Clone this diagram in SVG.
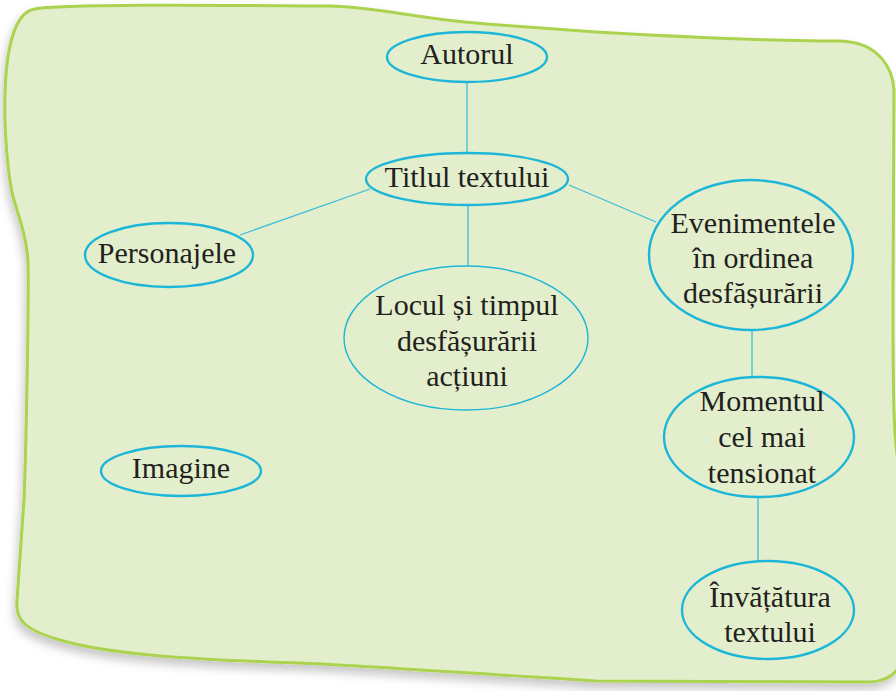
<svg xmlns="http://www.w3.org/2000/svg" width="896" height="691" viewBox="0 0 896 691">
<defs>
<filter id="sh" x="-10%" y="-10%" width="120%" height="120%">
<feDropShadow dx="-2" dy="6" stdDeviation="5" flood-color="#000" flood-opacity="0.22"/>
</filter>
<style>
.node{fill:none;stroke:#1db6d8;stroke-width:2.4}
.thin{stroke-width:1.4}
.lbl{font-family:"Liberation Serif","Times New Roman",serif;font-size:30px;fill:#231f20;text-anchor:middle}
.conn line{stroke:#3bbdd8;stroke-width:1.3}
</style>
</defs>
<rect width="896" height="691" fill="#fff"/>
<path id="board" filter="url(#sh)" fill="#e3efcc" stroke="#acd34f" stroke-width="3" d="M35,9 C60,4 200,5 330,6 C380,7 420,20 500,25 L596,32 C700,38 780,41 840,41 C880,42 893,70 894,90 L893,300 C893,400 894,440 898,460 L905,475 L905,640 C905,665 895,681 870,682 L596,681 C450,672 350,665 300,663 C200,660 110,655 60,640 C25,630 15,620 17,600 L24,500 C26,450 29,300 28,262 C27,240 20,220 14,200 C8,180 4,130 5,95 C6,50 14,12 35,9 Z"/>
<g id="connectors" class="conn">
<line x1="467" y1="81" x2="467" y2="153"/>
<line x1="468" y1="206" x2="468" y2="266"/>
<line x1="240" y1="235" x2="370" y2="189"/>
<line x1="569" y1="185" x2="656" y2="222"/>
<line x1="752" y1="330" x2="752" y2="377"/>
<line x1="758" y1="497" x2="758" y2="561"/>
</g>
<g id="autorul">
<ellipse class="node" cx="467" cy="57" rx="80" ry="25"/>
<text class="lbl" x="467" y="64">Autorul</text>
</g>
<g id="titlul">
<ellipse class="node" cx="467" cy="179" rx="101" ry="26"/>
<text class="lbl" x="467" y="187">Titlul textului</text>
</g>
<g id="personajele">
<ellipse class="node" cx="169" cy="255" rx="84" ry="32"/>
<text class="lbl" x="167" y="263">Personajele</text>
</g>
<g id="locul">
<ellipse class="node thin" cx="466" cy="338" rx="122" ry="72"/>
<text class="lbl" x="467" y="315">Locul și timpul</text>
<text class="lbl" x="467" y="351">desfășurării</text>
<text class="lbl" x="467" y="386">acțiuni</text>
</g>
<g id="evenimentele">
<ellipse class="node" cx="751" cy="255" rx="102" ry="75"/>
<text class="lbl" x="753" y="233">Evenimentele</text>
<text class="lbl" x="753" y="268">în ordinea</text>
<text class="lbl" x="753" y="303">desfășurării</text>
</g>
<g id="momentul">
<ellipse class="node" cx="759" cy="437" rx="95" ry="60"/>
<text class="lbl" x="762" y="411">Momentul</text>
<text class="lbl" x="762" y="447">cel mai</text>
<text class="lbl" x="762" y="483">tensionat</text>
</g>
<g id="invatatura">
<ellipse class="node" cx="768" cy="610" rx="86" ry="49"/>
<text class="lbl" x="770" y="607">Învățătura</text>
<text class="lbl" x="770" y="642">textului</text>
</g>
<g id="imagine">
<ellipse class="node" cx="181" cy="471" rx="80" ry="25"/>
<text class="lbl" x="181" y="478">Imagine</text>
</g>
</svg>
